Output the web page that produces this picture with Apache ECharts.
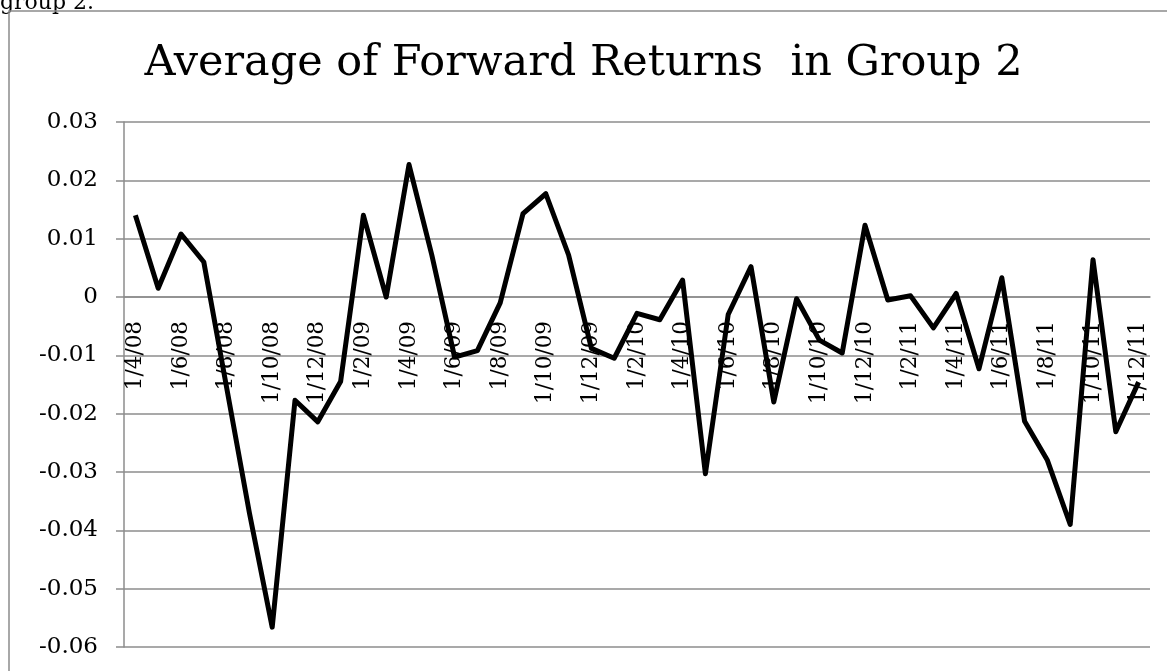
<!DOCTYPE html>
<html>
<head>
<meta charset="utf-8">
<title>Average of Forward Returns in Group 2</title>
<script src="https://cdn.jsdelivr.net/npm/echarts@6/dist/echarts.min.js"></script>
<style>
    html, body { margin: 0; padding: 0; background: #fff; }
    #chart { width: 1167px; height: 671px; }
</style>
</head>
<body>
<div id="chart"></div>
<script>
// monthly dates, day/month/year
var months = [
    '1/4/08', '1/5/08', '1/6/08', '1/7/08', '1/8/08', '1/9/08', '1/10/08', '1/11/08', '1/12/08',
    '1/1/09', '1/2/09', '1/3/09', '1/4/09', '1/5/09', '1/6/09', '1/7/09', '1/8/09', '1/9/09',
    '1/10/09', '1/11/09', '1/12/09',
    '1/1/10', '1/2/10', '1/3/10', '1/4/10', '1/5/10', '1/6/10', '1/7/10', '1/8/10', '1/9/10',
    '1/10/10', '1/11/10', '1/12/10',
    '1/1/11', '1/2/11', '1/3/11', '1/4/11', '1/5/11', '1/6/11', '1/7/11', '1/8/11', '1/9/11',
    '1/10/11', '1/11/11', '1/12/11'
];

var avgReturns = [
    0.014, 0.0015, 0.0108, 0.006, -0.0155, -0.037, -0.0566, -0.0177, -0.0214,
    -0.0145, 0.014, 0.0, 0.0227, 0.0072, -0.0103, -0.0092, -0.001, 0.0143,
    0.0177, 0.0072, -0.0088,
    -0.0105, -0.0028, -0.0039, 0.0029, -0.0303, -0.003, 0.0052, -0.018, -0.0003,
    -0.0074, -0.0096, 0.0123,
    -0.0005, 0.0002, -0.0053, 0.0006, -0.0123, 0.0033, -0.0213, -0.028, -0.039,
    0.0064, -0.0231, -0.0146
];

var yTicks = { min: -0.06, max: 0.03, step: 0.01 };

var font = 'DejaVu Serif';
var grey = '#8c8c8c';

var gridTop = 122, gridBottom = 24, chartH = 671;
// the category axis crosses the value axis at 0: move it up from the bottom edge
var plotH = chartH - gridTop - gridBottom;
var zeroShift = plotH * (0 - yTicks.min) / (yTicks.max - yTicks.min);

var chart = echarts.init(document.getElementById('chart'));

var option = {
    animation: false,
    backgroundColor: '#fff',
    title: {
        text: 'Average of Forward Returns  in Group 2',
        left: 'center',
        top: 37,
        textStyle: { fontFamily: font, fontSize: 43, fontWeight: 'normal', color: '#000' }
    },
    grid: { left: 124, right: 17, top: gridTop, bottom: gridBottom, containLabel: false, outerBoundsMode: 'none' },
    xAxis: {
        type: 'category',
        data: months,
        boundaryGap: true,
        offset: -zeroShift,
        axisLine: { onZero: false, lineStyle: { color: grey, width: 1.5 } },
        axisTick: { interval: 1, length: 9, lineStyle: { color: grey, width: 1.5 } },
        axisLabel: {
            interval: 1,
            rotate: 90,
            margin: 24,
            fontFamily: font,
            fontSize: 21.5,
            color: '#000'
        },
        splitLine: { show: false }
    },
    yAxis: {
        type: 'value',
        min: yTicks.min,
        max: yTicks.max,
        interval: yTicks.step,
        axisLine: { show: true, onZero: false, lineStyle: { color: grey, width: 1.5 } },
        axisTick: { show: true, length: 8, lineStyle: { color: grey, width: 1.5 } },
        axisLabel: {
            margin: 26,
            fontFamily: font,
            fontSize: 23,
            color: '#000',
            formatter: function (v) {
                return String(Math.round(v * 100) / 100);
            }
        },
        splitLine: { lineStyle: { color: grey, width: 1.5 } }
    },
    series: [{
        type: 'line',
        data: avgReturns,
        showSymbol: false,
        symbol: 'none',
        z: 10,
        lineStyle: { color: '#000', width: 5, join: 'round' }
    }],
    graphic: [
        // text cut off from the page above
        {
            type: 'text',
            left: 0,
            top: -8,
            style: { text: 'group 2.', fontFamily: font, fontSize: 22, fill: '#000' }
        },
        // chart frame (left and top edges)
        {
            type: 'polyline',
            shape: { points: [[9, 680], [9, 11], [1170, 11]] },
            style: { stroke: grey, lineWidth: 1.5, fill: null }
        }
    ]
};

chart.setOption(option);
</script>
</body>
</html>
